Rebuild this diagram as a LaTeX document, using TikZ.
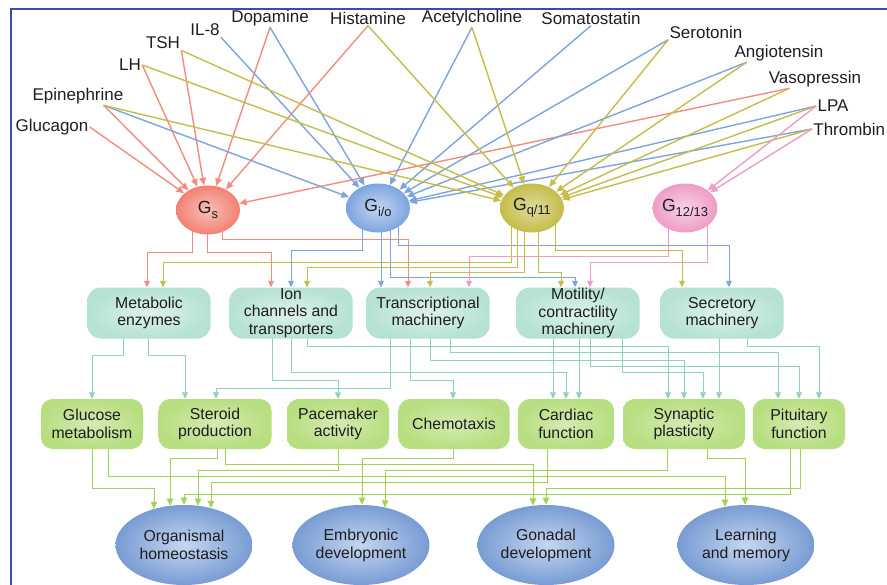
\documentclass[tikz,border=0pt]{standalone}
\usepackage{fontspec}
\setmainfont{Liberation Sans}
\usepackage{tikz}
\usetikzlibrary{arrows.meta}
\usetikzlibrary{backgrounds}
\usetikzlibrary{shapes.geometric}

\definecolor{framecol}{HTML}{3550A8}
\definecolor{textcol}{HTML}{1E1E1E}
\definecolor{redline}{HTML}{F28C7C}
\definecolor{blueline}{HTML}{7EA4DE}
\definecolor{yelline}{HTML}{C4BD4A}
\definecolor{pinkline}{HTML}{EE9CC6}
\definecolor{tealline}{HTML}{8ED2BC}
\definecolor{greenline}{HTML}{9FD356}

\newcommand{\gsub}[1]{G\raisebox{-0.45ex}{\fontsize{11}{11}\selectfont #1}}

\begin{document}
\begin{tikzpicture}[x=0.03cm,y=-0.03cm]
		\useasboundingbox (0,0) rectangle (887,585);
		\draw[framecol,line width=1.7pt] (11,590) -- (11,9) -- (890,9);

		% ligands
		\begin{scope}[every node/.style={inner sep=1pt,text=textcol,font=\fontsize{14.5}{16}\selectfont}]
			\node (l1) at (52,127) {Glucagon};
			\node (l2) at (78,96) {Epinephrine};
			\node (l3) at (130,65) {LH};
			\node (l4) at (163,43) {TSH};
			\node (l5) at (205,30) {IL-8};
			\node (l6) at (270,18) {Dopamine};
			\node (l7) at (368,18) {Histamine};
			\node (l8) at (472,18) {Acetylcholine};
			\node (l9) at (591,18) {Somatostatin};
			\node (l10) at (706,32) {Serotonin};
			\node (l11) at (779,53) {Angiotensin};
			\node (l12) at (815,79) {Vasopressin};
			\node (l13) at (833,106) {LPA};
			\node[anchor=west] (l14) at (812,129) {Thrombin};
		\end{scope}

		% G proteins
		\begin{scope}[every node/.style={ellipse,minimum width=1.92cm,minimum height=1.47cm,inner sep=0pt,
		              text=textcol,font=\fontsize{15}{15}\selectfont}]
			\node[inner color=white!45!redline,outer color=redline!92!red] (g1) at (208,210) {\gsub{s}};
			\node[inner color=white!55!blueline,outer color=blueline] (g2) at (378,208) {\gsub{i/o}};
			\node[inner color=white!45!yelline,outer color=yelline] (g3) at (532,208) {\gsub{q/11}};
			\node[inner color=white!55!pinkline,outer color=pinkline] (g4) at (685,208) {\gsub{12/13}};
		\end{scope}

		% cellular machinery
		\begin{scope}[every node/.style={rectangle,rounded corners=0.4cm,minimum width=3.7cm,minimum height=1.53cm,
		              inner sep=0pt,align=center,text=textcol,font=\fontsize{13.5}{15}\selectfont,
		              inner color=white!70!tealline,outer color=white!35!tealline}]
			\node (m1) at (149,313) {Metabolic\\enzymes};
			\node (m2) at (291,313) {Ion\\channels and\\transporters};
			\node (m3) at (428,313) {Transcriptional\\machinery};
			\node (m4) at (578,313) {Motility/\\contractility\\machinery};
			\node (m5) at (722,313) {Secretory\\machinery};
		\end{scope}

		% functions
		\begin{scope}[every node/.style={rectangle,rounded corners=0.35cm,minimum height=1.5cm,
		              inner sep=0pt,align=center,text=textcol,font=\fontsize{13.5}{15}\selectfont,
		              inner color=white!55!greenline,outer color=white!25!greenline}]
			\node[minimum width=3.06cm] (f1) at (92,424) {Glucose\\metabolism};
			\node[minimum width=3.39cm] (f2) at (215,424) {Steroid\\production};
			\node[minimum width=3.06cm] (f3) at (338,424) {Pacemaker\\activity};
			\node[minimum width=3.33cm] (f4) at (454,424) {Chemotaxis};
			\node[minimum width=2.88cm] (f5) at (566,424) {Cardiac\\function};
			\node[minimum width=3.66cm] (f6) at (684,424) {Synaptic\\plasticity};
			\node[minimum width=2.76cm] (f7) at (799,424) {Pituitary\\function};
		\end{scope}

		% outcomes
		\begin{scope}[every node/.style={ellipse,minimum width=4.11cm,minimum height=2.4cm,inner sep=0pt,
		              align=center,text=textcol,font=\fontsize{13.5}{15.5}\selectfont,
		              inner color=white!55!blueline,outer color=blueline!95!black}]
			\node (o1) at (184,545) {Organismal\\homeostasis};
			\node (o2) at (361,545) {Embryonic\\development};
			\node (o3) at (546,545) {Gonadal\\development};
			\node (o4) at (746,545) {Learning\\and memory};
		\end{scope}

		% ligand -> G protein
		\begin{scope}[>={Triangle[length=6.5pt,width=5.5pt]},
		              every edge/.style={draw=redline,line width=1.2pt,->}]
			\path (l1.east) edge (g1);
			\path (l2.-20) edge (g1);
			\path (l3.east) edge (g1);
			\path (l4.south east) edge (g1);
			\path (l6.south) edge (g1);
			\path (l7.south) edge (g1);
			\path (l12.-160) edge (g1);
		\end{scope}

		\begin{scope}[>={Triangle[length=6.5pt,width=5.5pt]},
		              every edge/.style={draw=blueline,line width=1.2pt,->}]
			\path (l2.-20) edge (g2);
			\path (l5.south east) edge (g2);
			\path (l6.south) edge (g2);
			\path (l8.south) edge (g2);
			\path (l9.south) edge (g2);
			\path (l10.south west) edge (g2);
			\path (l11.-164) edge (g2);
			\path (l13.west) edge (g2);
			\path (l14.west) edge (g2);
		\end{scope}

		\begin{scope}[>={Triangle[length=6.5pt,width=5.5pt]},
		              every edge/.style={draw=yelline,line width=1.2pt,->}]
			\path (l2.-20) edge (g3);
			\path (l3.east) edge (g3);
			\path (l4.south east) edge (g3);
			\path (l7.south) edge (g3);
			\path (l8.south) edge (g3);
			\path (l10.south west) edge (g3);
			\path (l11.-164) edge (g3);
			\path (l12.-160) edge (g3);
			\path (l13.west) edge (g3);
			\path (l14.west) edge (g3);
		\end{scope}

		\begin{scope}[>={Triangle[length=6.5pt,width=5.5pt]},
		              every edge/.style={draw=pinkline,line width=1.2pt,->}]
			\path (l13.west) edge (g4);
			\path (l14.west) edge (g4);
		\end{scope}

		% G protein -> machinery
		\begin{scope}[on background layer,>={Triangle[length=5.5pt,width=5pt]},line width=1.1pt]
			\draw[redline,->] (192,0 |- g1.center) -- (192,252) -- (147,252) -- (147,0 |- m1.north);
			\draw[redline,->] (207,0 |- g1.center) -- (207,252) -- (271,252) -- (271,0 |- m2.north);
			\draw[redline,->] (222,0 |- g1.center) -- (222,239) -- (408,239) -- (408,0 |- m3.north);
			\draw[blueline,->] (362,0 |- g2.center) -- (362,250) -- (291,250) -- (291,0 |- m2.north);
			\draw[blueline,->] (381,0 |- g2.center) -- (381,0 |- m3.north);
			\draw[blueline,->] (390,0 |- g2.center) -- (390,277) -- (575,277) -- (575,0 |- m4.north);
			\draw[blueline,->] (398,0 |- g2.center) -- (398,245) -- (729,245) -- (729,0 |- m5.north);
			\draw[yelline,->] (511,0 |- g3.center) -- (511,262) -- (163,262) -- (163,0 |- m1.north);
			\draw[yelline,->] (517,0 |- g3.center) -- (517,267) -- (307,267) -- (307,0 |- m2.north);
			\draw[yelline,->] (524,0 |- g3.center) -- (524,272) -- (430,272) -- (430,0 |- m3.north);
			\draw[yelline,->] (538,0 |- g3.center) -- (538,272) -- (561,272) -- (561,0 |- m4.north);
			\draw[yelline,->] (555,0 |- g3.center) -- (555,250) -- (682,250) -- (682,0 |- m5.north);
			\draw[pinkline,->] (668,0 |- g4.center) -- (668,256) -- (469,256) -- (469,0 |- m3.north);
			\draw[pinkline,->] (707,0 |- g4.center) -- (707,262) -- (590,262) -- (590,0 |- m4.north);
		\end{scope}

		% machinery -> function
		\begin{scope}[on background layer,>={Triangle[length=5.5pt,width=5pt]},line width=1.1pt]
			\draw[tealline,->] (123,0 |- m1.center) -- (123,355) -- (92,355) -- (92,0 |- f1.north);
			\draw[tealline,->] (148,0 |- m1.center) -- (148,355) -- (185,355) -- (185,0 |- f2.north);
			\draw[tealline,->] (272,0 |- m2.center) -- (272,380) -- (338,380) -- (338,0 |- f3.north);
			\draw[tealline,->] (291,0 |- m2.center) -- (291,372) -- (566,372) -- (566,0 |- f5.north);
			\draw[tealline,->] (307,0 |- m2.center) -- (307,346) -- (668,346) -- (668,0 |- f6.north);
			\draw[tealline,->] (390,0 |- m3.center) -- (390,388) -- (216,388) -- (216,0 |- f2.north);
			\draw[tealline,->] (410,0 |- m3.center) -- (410,380) -- (453,380) -- (453,0 |- f4.north);
			\draw[tealline,->] (430,0 |- m3.center) -- (430,360) -- (684,360) -- (684,0 |- f6.north);
			\draw[tealline,->] (450,0 |- m3.center) -- (450,352) -- (778,352) -- (778,0 |- f7.north);
			\draw[tealline,->] (553,0 |- m4.center) -- (553,0 |- f5.north);
			\draw[tealline,->] (579,0 |- m4.center) -- (579,0 |- f5.north);
			\draw[tealline,->] (590,0 |- m4.center) -- (590,366) -- (799,366) -- (799,0 |- f7.north);
			\draw[tealline,->] (622,0 |- m4.center) -- (622,372) -- (703,372) -- (703,0 |- f6.north);
			\draw[tealline,->] (719,0 |- m5.center) -- (719,0 |- f6.north);
			\draw[tealline,->] (747,0 |- m5.center) -- (747,346) -- (819,346) -- (819,0 |- f7.north);
		\end{scope}

		% function -> outcome
		\begin{scope}[on background layer,>={Triangle[length=6pt,width=5.5pt]},line width=1.2pt]
			\draw[greenline,->] (92,0 |- f1.center) -- (92,488) -- (154,488) -- (154,0 |- o1.130);
			\draw[greenline,->] (108,0 |- f1.center) -- (108,476) -- (725,476) -- (725,0 |- o4.119);
			\draw[greenline,->] (217,0 |- f2.center) -- (217,458) -- (170,458) -- (170,0 |- o1.110);
			\draw[greenline,->] (225,0 |- f2.center) -- (225,464) -- (533,464) -- (533,0 |- o3.108);
			\draw[greenline,->] (338,0 |- f3.center) -- (338,470) -- (198,470) -- (198,0 |- o1.70);
			\draw[greenline,->] (453,0 |- f4.center) -- (453,458) -- (362,458) -- (362,0 |- o2.north);
			\draw[greenline,->] (547,0 |- f5.center) -- (547,482) -- (211,482) -- (211,0 |- o1.54);
			\draw[greenline,->] (667,0 |- f6.center) -- (667,470) -- (385,470) -- (385,0 |- o2.57);
			\draw[greenline,->] (707,0 |- f6.center) -- (707,458) -- (745,458) -- (745,0 |- o4.north);
			\draw[greenline,->] (790,0 |- f7.center) -- (790,494) -- (184,494) -- (184,0 |- o1.north);
			\draw[greenline,->] (800,0 |- f7.center) -- (800,488) -- (546,488) -- (546,0 |- o3.north);
		\end{scope}
\end{tikzpicture}
\end{document}
